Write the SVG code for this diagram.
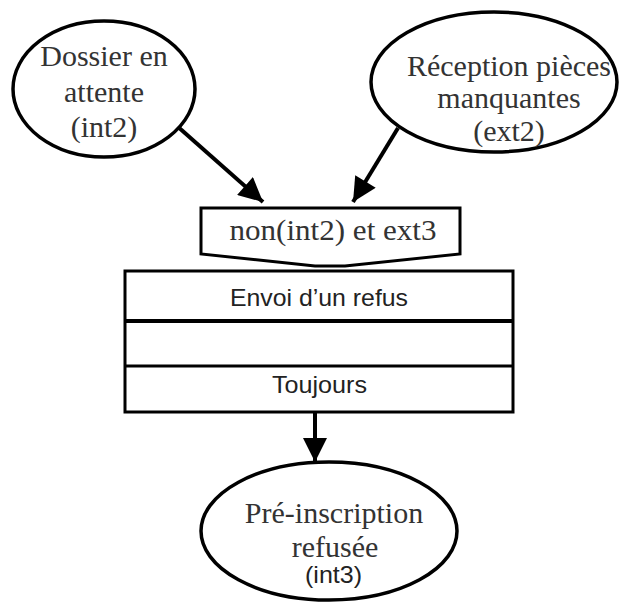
<svg xmlns="http://www.w3.org/2000/svg" width="619" height="604" viewBox="0 0 619 604">
  <style>
    .state { fill: #fff; stroke: #000; stroke-width: 3.5; }
    .frame { fill: #fff; stroke: #000; stroke-width: 3; }
    .serif { font-family: "Liberation Serif", "Times New Roman", serif; font-size: 30px; fill: #333; text-anchor: middle; }
    .sans { font-family: "Liberation Sans", Arial, sans-serif; font-size: 24px; fill: #222; text-anchor: middle; }
    .edge { stroke: #000; stroke-width: 4; fill: none; }
  </style>
  <defs>
    <marker id="arrow" viewBox="0 0 10 10" refX="10" refY="5" markerUnits="userSpaceOnUse" markerWidth="25" markerHeight="24" orient="auto">
      <path d="M0,0 L10,5 L0,10 Z" fill="#000"/>
    </marker>
  </defs>

  <g id="connectors">
    <line class="edge" x1="177" y1="126" x2="263" y2="202" marker-end="url(#arrow)"/>
    <line class="edge" x1="398" y1="128" x2="353" y2="202" marker-end="url(#arrow)"/>
    <line class="edge" x1="315" y1="412" x2="315" y2="462" marker-end="url(#arrow)"/>
  </g>

  <g id="dossier-attente">
    <ellipse class="state" cx="104" cy="89" rx="91" ry="68"/>
    <text class="serif" x="104" y="66">Dossier en</text>
    <text class="serif" x="104" y="102">attente</text>
    <text class="serif" x="104" y="137">(int2)</text>
  </g>

  <g id="reception-pieces">
    <ellipse class="state" cx="494" cy="82" rx="123" ry="70"/>
    <text class="serif" x="509" y="76">Réception pièces</text>
    <text class="serif" x="509" y="108">manquantes</text>
    <text class="serif" x="509" y="141">(ext2)</text>
  </g>

  <g id="condition">
    <path class="frame" d="M201,208 H460 V254 L345,266 H315 L201,254 Z"/>
    <text class="serif" x="333" y="240" textLength="207" lengthAdjust="spacingAndGlyphs">non(int2) et ext3</text>
  </g>

  <g id="action">
    <rect class="frame" x="125" y="271" width="388" height="141"/>
    <line x1="125" y1="321" x2="513" y2="321" stroke="#000" stroke-width="4"/>
    <line x1="125" y1="366" x2="513" y2="366" stroke="#000" stroke-width="3"/>
    <text class="sans" x="319" y="306" textLength="178" lengthAdjust="spacingAndGlyphs">Envoi d’un refus</text>
    <text class="sans" x="319.5" y="393" textLength="95" lengthAdjust="spacingAndGlyphs">Toujours</text>
  </g>

  <g id="preinscription-refusee">
    <ellipse class="state" cx="329" cy="531" rx="128" ry="69"/>
    <text class="serif" x="334" y="523">Pré-inscription</text>
    <text class="serif" x="335" y="557">refusée</text>
    <text class="sans" x="333.5" y="583" font-size="22" textLength="57" lengthAdjust="spacingAndGlyphs">(int3)</text>
  </g>
</svg>
